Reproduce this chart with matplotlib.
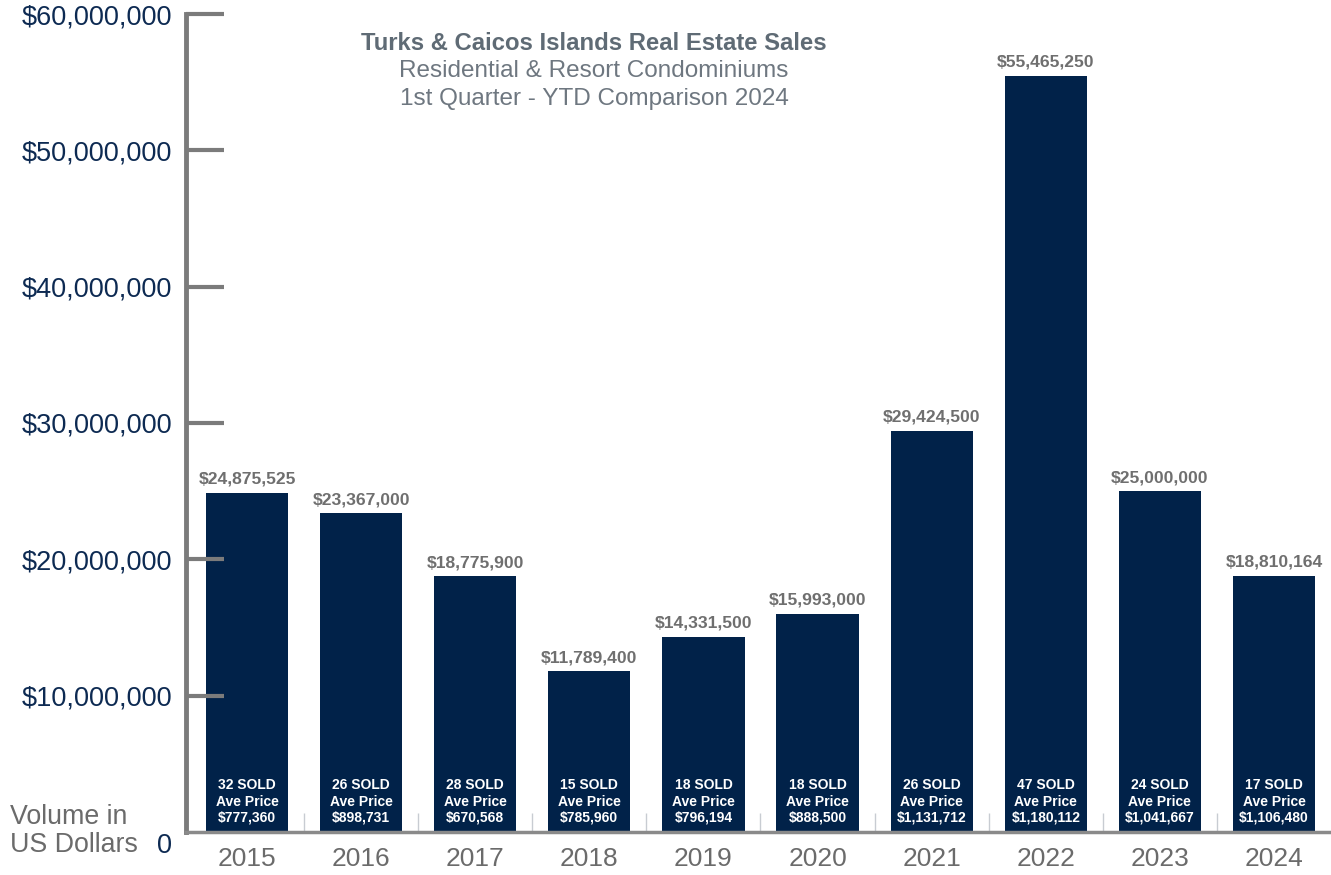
import numpy as np
import matplotlib.pyplot as plt
import matplotlib.ticker as mticker

plt.rcParams['font.family'] = ['Liberation Sans', 'DejaVu Sans']

years = ['2015', '2016', '2017', '2018', '2019', '2020', '2021', '2022', '2023', '2024']
volume = [24875525, 23367000, 18775900, 11789400, 14331500, 15993000,
          29424500, 55465250, 25000000, 18810164]
sold = [32, 26, 28, 15, 18, 18, 26, 47, 24, 17]
ave_price = [777360, 898731, 670568, 785960, 796194, 888500,
             1131712, 1180112, 1041667, 1106480]

navy = '#012249'
axis_gray = '#7b7b7b'
text_gray = '#6b6b6b'
tick_navy = '#0d2a52'

fig = plt.figure(figsize=(13.31, 8.75), dpi=100)
ax = fig.add_axes([186 / 1331, 43 / 875, 1 - 186 / 1331, (832 - 14) / 875])

x = np.arange(len(years))
ax.bar(x, volume, width=0.72, color=navy, zorder=2)

ax.set_xlim(-0.535, len(years) - 0.5)
ax.set_ylim(0, 60000000)

# y axis: thick gray spine and inward ticks
for s in ['top', 'right']:
    ax.spines[s].set_visible(False)
ax.spines['left'].set_color(axis_gray)
ax.spines['left'].set_linewidth(3.5)
ax.spines['bottom'].set_color('#8a8a8a')
ax.spines['bottom'].set_linewidth(2.5)
ax.spines['left'].set_zorder(3)
ax.spines['bottom'].set_zorder(3)

ax.set_yticks(np.arange(10000000, 60000001, 10000000))
ax.yaxis.set_major_formatter(mticker.FuncFormatter(lambda v, p: '${:,.0f}'.format(v)))
ax.tick_params(axis='y', direction='in', length=27, width=3, color=axis_gray,
               labelsize=19.5, labelcolor=tick_navy, pad=10)
for t in ax.yaxis.get_major_ticks():
    t.tick1line.set_zorder(4)
ax.set_axisbelow(False)

# zero label sits a bit below the baseline
ax.annotate('0', xy=(0, 0), xycoords='axes fraction', xytext=(-14, -14),
            textcoords='offset pixels', ha='right', va='center',
            fontsize=19.5, color=tick_navy)

# x axis: year labels, minor separators
ax.set_xticks(x)
ax.set_xticklabels(years)
ax.tick_params(axis='x', which='major', length=0, labelsize=19,
               labelcolor=text_gray, pad=11)
ax.set_xticks(np.arange(0.5, len(years) - 0.5, 1), minor=True)
ax.tick_params(axis='x', which='minor', direction='in', length=14, width=1,
               color='#c8ccd2')

for xi, v, n, p in zip(x, volume, sold, ave_price):
    ax.annotate('${:,.0f}'.format(v), xy=(xi, v), xytext=(0, 6),
                textcoords='offset pixels', ha='center', va='bottom',
                fontsize=12.6, fontweight='bold', color='#6f6f6f')
    ax.annotate('{} SOLD\nAve Price\n${:,.0f}'.format(n, p), xy=(xi, 0),
                xytext=(0, 7), textcoords='offset pixels', ha='center',
                va='bottom', fontsize=10, fontweight='bold', color='white',
                linespacing=1.22, zorder=5)

fig.text(10 / 1331, 1 - 831 / 875, 'Volume in\nUS Dollars', ha='left', va='center',
         fontsize=19.3, color=text_gray, linespacing=1.15)

fig.text(594 / 1331, 1 - 43 / 875, 'Turks & Caicos Islands Real Estate Sales',
         ha='center', va='center', fontsize=17.2, fontweight='bold', color='#5f6b75')
fig.text(594 / 1331, 1 - 71 / 875, 'Residential & Resort Condominiums',
         ha='center', va='center', fontsize=17.5, color='#6e7780')
fig.text(594 / 1331, 1 - 99 / 875, '1st Quarter - YTD Comparison 2024',
         ha='center', va='center', fontsize=17.5, color='#6e7780')

fig.savefig('out.png', dpi=100)
